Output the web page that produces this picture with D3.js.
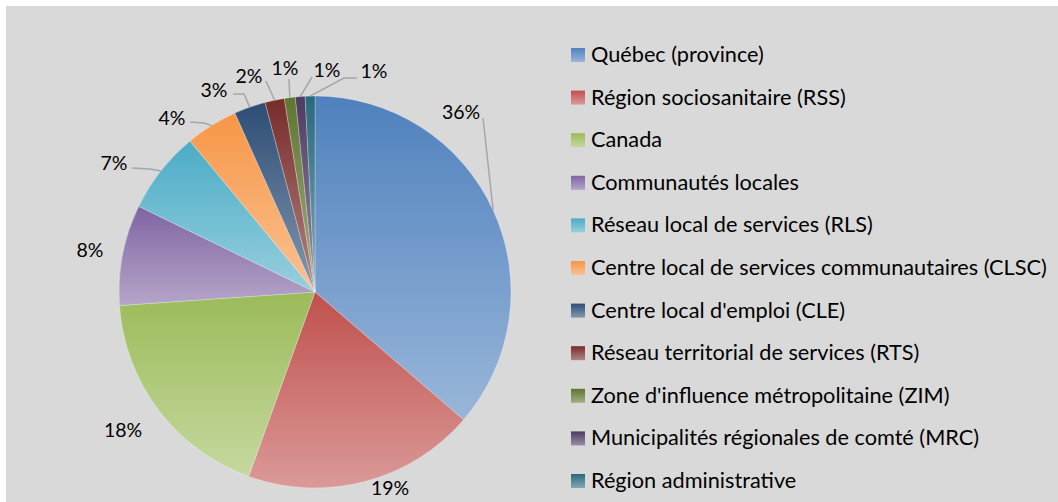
<!DOCTYPE html>
<html><head><meta charset="utf-8">
<script src="https://cdn.jsdelivr.net/npm/d3@7"></script>
<style>html,body{margin:0;padding:0;background:#fff;}svg{display:block;}</style>
</head><body>
<svg id="c" width="1058" height="502"></svg>
<script>
const categories = ["Québec (province)","Région sociosanitaire (RSS)","Canada","Communautés locales","Réseau local de services (RLS)","Centre local de services communautaires (CLSC)","Centre local d'emploi (CLE)","Réseau territorial de services (RTS)","Zone d'influence métropolitaine (ZIM)","Municipalités régionales de comté (MRC)","Région administrative"];
const values = [36.3, 19.2, 18.4, 8.3, 6.8, 4.3, 2.6, 1.6, 0.9, 0.8, 0.8];
const percentLabels = ["36%","19%","18%","8%","7%","4%","3%","2%","1%","1%","1%"];
const colors = ["#4F81BD","#C0504D","#9BBB59","#8064A2","#4BACC6","#F79646","#2C4D75","#772C2A","#5F7530","#4D3B62","#276A7C"];

// layout (style) : label anchor positions and leader line start points
const labelLayout = [
  {x:461, y:111, line:[[483,118]]},
  {x:390, y:487},
  {x:123, y:429},
  {x:90, y:249},
  {x:114, y:162, line:[[132,168],[150,169]]},
  {x:172, y:117, line:[[190,122],[204,123]]},
  {x:214, y:89, line:[[233,94],[244,94]]},
  {x:249, y:75, line:[[266,81]]},
  {x:285, y:67, line:[[289,79]]},
  {x:327, y:69, line:[[312,77]]},
  {x:374, y:70, line:[[357,78],[344,78]]}
];

const svg = d3.select("#c");
svg.append("rect").attr("x",6).attr("y",6).attr("width",1052).attr("height",496).attr("fill","#d9d9d9");

const defs = svg.append("defs");
colors.forEach((c,i)=>{
  const g = defs.append("linearGradient").attr("id","g"+i).attr("x1",0).attr("y1",0).attr("x2",0).attr("y2",1);
  g.append("stop").attr("offset","0%").attr("stop-color",c);
  g.append("stop").attr("offset","100%").attr("stop-color",d3.interpolateRgb(c,"#fff")(0.42));
});

const cx=315, cy=292, R=196;
const pie = d3.pie().sort(null).value(d=>d);
const arcs = pie(values);
const arc = d3.arc().innerRadius(0).outerRadius(R);
const edge = d3.arc().innerRadius(R).outerRadius(R);

const g = svg.append("g").attr("transform",`translate(${cx},${cy})`);
g.selectAll("path").data(arcs).join("path")
  .attr("d",arc)
  .attr("fill",(d,i)=>`url(#g${i})`)
  .attr("stroke","#ffffff").attr("stroke-opacity",0.45).attr("stroke-width",0.6);

// leader lines
const lineGen = d3.line();
arcs.forEach((d,i)=>{
  const L = labelLayout[i];
  if(!L.line) return;
  const e = edge.centroid(d);
  const pts = L.line.concat([[cx+e[0], cy+e[1]]]);
  svg.append("path").attr("d",lineGen(pts)).attr("fill","none").attr("stroke","#a6a6a6").attr("stroke-width",1.5);
});

// labels
svg.selectAll("text.pl").data(percentLabels).join("text").attr("class","pl")
  .attr("x",(d,i)=>labelLayout[i].x).attr("y",(d,i)=>labelLayout[i].y)
  .attr("text-anchor","middle").attr("dominant-baseline","central")
  .attr("font-family","Lato, 'Noto Sans', sans-serif").attr("font-size",19.5).attr("fill","#000")
  .text(d=>d);

// legend
const ly0 = 55, lstep = 42.6;
const leg = svg.append("g");
categories.forEach((c,i)=>{
  const y = ly0 + i*lstep;
  leg.append("rect").attr("x",571).attr("y",y-7).attr("width",14).attr("height",14).attr("fill",`url(#g${i})`);
  leg.append("text").attr("x",591).attr("y",y-1).attr("dominant-baseline","central")
    .attr("font-family","Lato, 'Noto Sans', sans-serif").attr("font-size",21.7).attr("fill","#000").text(c);
});
</script>
</body></html>
